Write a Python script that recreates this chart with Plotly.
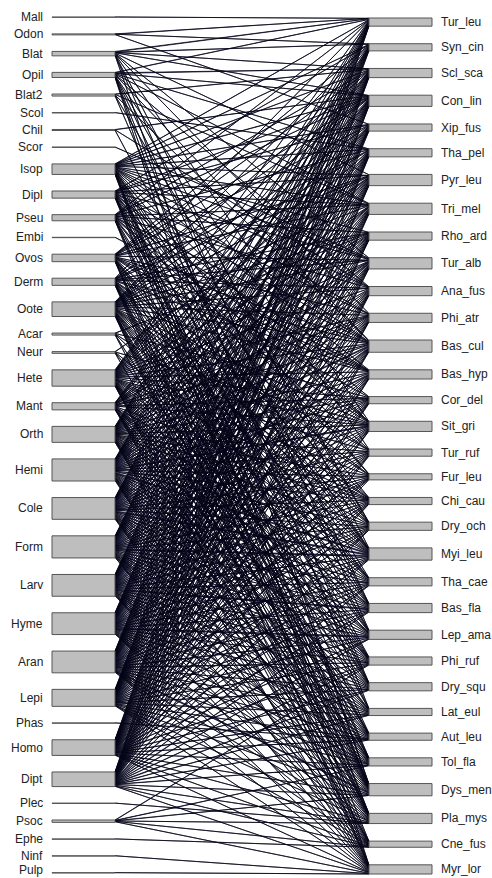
import plotly.graph_objects as go

# ---------------- data ----------------
prey = ["Mall", "Odon", "Blat", "Opil", "Blat2", "Scol", "Chil", "Scor", "Isop", "Dipl",
        "Pseu", "Embi", "Ovos", "Derm", "Oote", "Acar", "Neur", "Hete", "Mant", "Orth",
        "Hemi", "Cole", "Form", "Larv", "Hyme", "Aran", "Lepi", "Phas", "Homo", "Dipt",
        "Plec", "Psoc", "Ephe", "Ninf", "Pulp"]

birds = ["Tur_leu", "Syn_cin", "Scl_sca", "Con_lin", "Xip_fus", "Tha_pel", "Pyr_leu",
         "Tri_mel", "Rho_ard", "Tur_alb", "Ana_fus", "Phi_atr", "Bas_cul", "Bas_hyp",
         "Cor_del", "Sit_gri", "Tur_ruf", "Fur_leu", "Chi_cau", "Dry_och", "Myi_leu",
         "Tha_cae", "Bas_fla", "Lep_ama", "Phi_ruf", "Dry_squ", "Lat_eul", "Aut_leu",
         "Tol_fla", "Dys_men", "Pla_mys", "Cne_fus", "Myr_lor"]

# interaction counts: one row per prey (same order as `prey`), one column per bird
web = [
    [1,0,0,0,0,0,0,0,0,0,0,0,0,0,0,0,0,0,0,0,0,0,0,0,0,0,0,0,0,0,0,0,0],  # Mall
    [1,1,0,0,1,0,0,0,0,0,0,0,0,0,0,0,0,0,0,0,0,0,0,0,0,0,0,0,0,0,0,0,0],  # Odon
    [2,1,1,1,0,0,1,0,0,1,0,1,0,0,0,1,0,0,0,0,1,0,0,1,0,0,0,0,0,2,0,0,0],  # Blat
    [1,0,2,1,0,1,0,1,0,0,1,0,2,0,0,0,1,0,0,1,0,0,1,0,0,0,1,0,0,1,0,0,1],  # Opil
    [0,0,1,0,0,0,0,2,0,0,0,0,1,0,0,0,0,0,0,1,0,0,0,0,0,1,0,0,0,0,0,0,0],  # Blat2
    [0,0,0,0,0,1,0,0,0,0,0,0,0,0,0,0,0,0,0,0,0,0,0,0,0,0,0,0,0,0,0,0,0],  # Scol
    [0,0,0,1,0,0,0,0,0,0,1,0,0,0,0,0,0,0,0,0,0,0,1,0,0,0,0,0,0,0,0,0,0],  # Chil
    [0,0,0,0,0,0,0,0,0,1,0,0,0,0,0,0,0,0,0,0,0,0,0,0,0,0,0,0,0,0,0,0,0],  # Scor
    [1,1,1,2,1,1,2,1,1,2,1,1,2,1,0,1,0,1,0,1,2,1,0,1,0,1,0,0,1,2,1,0,1],  # Isop
    [0,1,0,1,1,0,1,1,0,1,0,1,1,0,1,1,0,1,1,0,2,0,1,0,1,0,1,1,0,2,1,0,0],  # Dipl
    [1,0,1,1,0,1,0,1,1,0,1,0,1,1,0,1,1,0,0,1,1,0,0,1,0,1,0,0,1,1,0,1,0],  # Pseu
    [0,0,0,0,0,0,0,0,0,0,0,0,0,1,0,0,0,0,0,0,0,0,0,0,0,0,0,0,0,0,0,0,0],  # Embi
    [0,1,1,1,1,0,1,1,0,2,0,1,1,1,1,1,0,0,1,0,1,1,1,0,1,0,1,0,0,1,1,0,1],  # Ovos
    [1,0,0,1,0,1,1,0,1,1,1,0,1,1,0,0,1,1,0,1,1,1,0,1,0,1,0,1,1,1,1,0,1],  # Derm
    [0,1,1,2,1,1,2,2,1,2,1,2,2,1,0,2,1,1,1,2,2,1,1,2,1,2,0,1,1,2,1,1,2],  # Oote
    [0,0,0,0,0,0,0,0,1,0,0,0,0,0,1,0,0,0,1,0,0,1,0,0,0,0,0,1,0,0,1,0,0],  # Acar
    [0,0,0,0,0,0,1,0,0,0,0,0,0,0,0,1,0,0,0,0,1,0,0,0,1,0,0,0,0,1,0,0,0],  # Neur
    [2,2,1,2,1,1,2,1,2,1,2,1,2,2,2,2,1,1,1,1,2,2,1,2,1,1,1,2,1,2,1,1,1],  # Hete
    [0,0,1,1,1,0,1,1,1,1,0,1,1,0,1,1,0,0,1,0,1,0,1,1,1,0,1,0,1,1,1,1,0],  # Mant
    [1,1,2,1,2,1,2,1,2,1,2,1,2,2,1,1,2,1,1,1,2,1,2,1,2,1,2,1,2,1,2,1,1],  # Orth
    [2,1,2,2,2,2,2,3,1,3,2,2,3,2,1,3,1,2,1,2,3,2,2,2,2,2,2,1,2,2,2,2,2],  # Hemi
    [2,1,2,2,2,1,3,2,2,3,2,2,2,3,1,2,2,2,1,2,3,2,2,2,2,2,1,2,2,2,2,2,1],  # Cole
    [2,1,2,2,2,2,2,3,2,2,2,2,3,2,2,2,1,2,2,1,3,2,2,2,2,2,2,1,2,2,3,1,2],  # Form
    [1,2,2,2,1,2,3,2,2,2,3,2,2,2,2,2,2,1,2,2,2,2,3,2,2,2,1,2,2,2,2,1,2],  # Larv
    [1,2,2,2,1,2,3,2,2,2,2,3,2,2,2,2,2,1,2,2,2,2,2,3,1,2,2,2,2,2,2,1,2],  # Hyme
    [1,2,1,3,1,2,2,3,2,2,2,2,3,2,2,2,2,1,2,2,2,2,2,2,2,2,2,2,1,3,2,1,2],  # Aran
    [2,2,1,2,2,1,2,2,1,2,1,2,1,2,1,2,1,2,1,2,1,2,1,2,1,1,2,1,1,2,1,1,2],  # Lepi
    [0,0,0,0,0,0,0,0,0,0,0,0,0,0,0,0,0,0,0,0,0,0,0,0,0,0,0,1,0,0,0,0,0],  # Phas
    [1,1,2,1,1,2,1,2,1,2,2,1,2,1,2,1,2,1,1,1,2,1,2,1,2,1,1,1,2,1,2,1,1],  # Homo
    [1,0,1,2,0,2,1,2,1,2,1,2,2,1,1,2,1,0,2,1,2,1,2,1,1,2,1,1,1,2,2,1,1],  # Dipt
    [0,0,0,0,0,0,0,0,0,0,0,0,0,0,0,0,0,0,0,0,0,0,0,0,0,0,0,0,0,0,1,0,0],  # Plec
    [0,0,0,0,0,0,0,0,0,0,0,0,0,0,0,0,0,0,0,0,0,0,0,0,1,0,0,0,1,1,1,1,2],  # Psoc
    [0,0,0,0,0,0,0,0,0,0,0,0,0,0,0,0,0,0,0,0,0,0,0,0,0,0,0,0,0,0,0,1,0],  # Ephe
    [0,0,0,0,0,0,0,0,0,0,0,0,0,0,0,0,0,0,0,0,0,0,0,0,0,0,0,0,0,0,0,0,1],  # Ninf
    [0,0,0,0,0,0,0,0,0,0,0,0,0,0,0,0,0,0,0,0,0,0,0,0,0,0,0,0,0,0,0,0,1],  # Pulp
]

# ---------------- layout constants ----------------
W, H = 492, 878
UNIT = 0.34                 # px per interaction
LEFT_BOX = (52, 115)
RIGHT_BOX = (369, 432)
LEFT_SPAN = (17, 873)
RIGHT_SPAN = (18, 874)
LABEL_MAX_Y = H - 8         # keep the lowest labels fully inside the page

prey_tot = [sum(r) for r in web]
bird_tot = [sum(web[i][j] for i in range(len(prey))) for j in range(len(birds))]


def stack(totals, span):
    n = len(totals)
    gap = (span[1] - span[0] - UNIT * sum(totals)) / (n - 1)
    tops, y = [], span[0]
    for t in totals:
        tops.append(y)
        y += UNIT * t + gap
    return tops


ltop = stack(prey_tot, LEFT_SPAN)
rtop = stack(bird_tot, RIGHT_SPAN)

# link segment positions
lcur = list(ltop)
rcur = list(rtop)
lseg = {}
for i in range(len(prey)):
    for j in range(len(birds)):
        w = web[i][j]
        if w:
            lseg[(i, j)] = (lcur[i], lcur[i] + UNIT * w)
            lcur[i] += UNIT * w
rseg = {}
for j in range(len(birds)):
    for i in range(len(prey)):
        w = web[i][j]
        if w:
            rseg[(i, j)] = (rcur[j], rcur[j] + UNIT * w)
            rcur[j] += UNIT * w

xs, ys = [], []
xa, xb = LEFT_BOX[1], RIGHT_BOX[0]
for key, (l0, l1) in lseg.items():
    r0, r1 = rseg[key]
    xs += [xa, xb, xb, xa, xa, None]
    ys += [l0, r0, r1, l1, l0, None]

fig = go.Figure()
fig.add_trace(go.Scatter(
    x=xs, y=ys, mode="lines", fill="toself",
    fillcolor="rgba(25,25,100,0.9)",
    line=dict(color="rgba(5,5,25,0.92)", width=0.8),
    hoverinfo="skip", showlegend=False))

shapes = []
annotations = []
font = dict(family="Liberation Sans, Arial, sans-serif", size=12, color="#222222")
for i, name in enumerate(prey):
    y0 = ltop[i]
    y1 = y0 + UNIT * prey_tot[i]
    shapes.append(dict(type="rect", xref="x", yref="y", x0=LEFT_BOX[0], x1=LEFT_BOX[1],
                       y0=y0, y1=y1, fillcolor="#bebebe",
                       line=dict(color="#555555", width=1), layer="above"))
    annotations.append(dict(x=LEFT_BOX[0] - 7, y=min((y0 + y1) / 2, LABEL_MAX_Y),
                            xref="x", yref="y",
                            text=name, showarrow=False, xanchor="right", yanchor="middle",
                            font=font))
for j, name in enumerate(birds):
    y0 = rtop[j]
    y1 = y0 + UNIT * bird_tot[j]
    shapes.append(dict(type="rect", xref="x", yref="y", x0=RIGHT_BOX[0], x1=RIGHT_BOX[1],
                       y0=y0, y1=y1, fillcolor="#bebebe",
                       line=dict(color="#555555", width=1), layer="above"))
    annotations.append(dict(x=RIGHT_BOX[1] + 7, y=min((y0 + y1) / 2, LABEL_MAX_Y),
                            xref="x", yref="y",
                            text=name, showarrow=False, xanchor="left", yanchor="middle",
                            font=font))

fig.update_layout(
    width=W, height=H,
    margin=dict(l=0, r=0, t=0, b=0),
    paper_bgcolor="white", plot_bgcolor="white",
    xaxis=dict(range=[0, W], visible=False, fixedrange=True),
    yaxis=dict(range=[H, 0], visible=False, fixedrange=True),
    shapes=shapes, annotations=annotations,
)

# remove the default 8px page margin so that the figure fills the window exactly
fig.write_html(
    "out.html",
    config={"displayModeBar": False, "staticPlot": True},
    post_script="document.body.style.margin='0';document.body.style.overflow='hidden';",
)
